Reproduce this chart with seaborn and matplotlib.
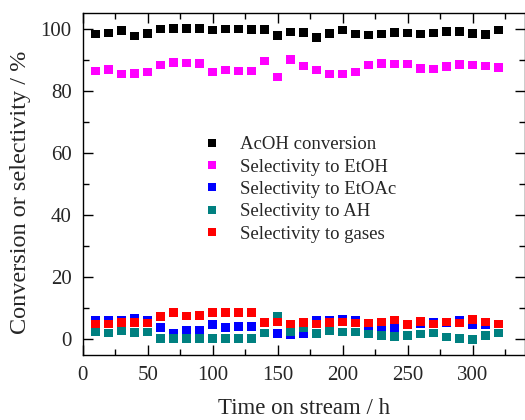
import numpy as np
import pandas as pd
import matplotlib
matplotlib.use("Agg")
import matplotlib.pyplot as plt
import seaborn as sns
from matplotlib.ticker import MultipleLocator

time_h = [10, 20, 30, 40, 50, 60, 70, 80, 90, 100, 110, 120, 130, 140, 150, 160,
          170, 180, 190, 200, 210, 220, 230, 240, 250, 260, 270, 280, 290, 300, 310, 320]

acoh_conv = [98.2, 98.6, 99.3, 97.6, 98.5, 99.9, 100.0, 100.0, 100.0, 99.6, 99.9, 99.9, 99.7, 99.7, 97.7, 98.9,
             98.7, 97.1, 98.5, 99.5, 98.3, 97.9, 98.2, 98.7, 98.6, 98.2, 98.6, 99.0, 99.1, 98.4, 98.1, 99.5]

sel_etoh = [86.4, 86.8, 85.4, 85.5, 86.0, 88.3, 89.1, 88.9, 88.8, 86.0, 86.7, 86.4, 86.4, 89.6, 84.4, 90.0,
            88.0, 86.7, 85.4, 85.4, 86.0, 88.3, 88.8, 88.6, 88.6, 87.1, 87.0, 87.8, 88.5, 88.3, 88.0, 87.5]

sel_etoac = [6.0, 6.0, 6.2, 6.8, 6.2, 3.9, 1.8, 2.9, 2.9, 4.7, 3.9, 4.2, 4.2, 2.0, 1.9, 1.6,
             1.7, 6.0, 6.2, 6.6, 6.2, 3.4, 3.6, 3.9, 5.0, 4.9, 5.5, 5.5, 6.1, 4.8, 4.6, 5.0]

sel_ah = [2.4, 2.1, 2.8, 2.2, 2.4, 0.3, 0.2, 0.2, 0.3, 0.3, 0.3, 0.3, 0.3, 2.0, 7.5, 2.4,
          3.9, 1.9, 2.7, 2.3, 2.4, 1.7, 1.3, 0.9, 1.3, 1.7, 2.1, 0.7, 0.2, -0.1, 1.3, 2.1]

sel_gases = [5.0, 5.0, 5.4, 5.5, 5.2, 7.4, 8.6, 7.5, 7.7, 8.6, 8.7, 8.6, 8.6, 5.4, 5.6, 5.0,
             5.4, 5.0, 5.4, 5.6, 5.3, 5.3, 5.6, 6.2, 4.8, 5.7, 5.0, 5.6, 5.3, 6.4, 5.6, 5.0]

series_names = ["AcOH conversion", "Selectivity to EtOH", "Selectivity to EtOAc",
                "Selectivity to AH", "Selectivity to gases"]
series_colors = ["#000000", "#FF00FF", "#0000FF", "#008080", "#FF0000"]
series_values = [acoh_conv, sel_etoh, sel_etoac, sel_ah, sel_gases]

frames = []
for name, vals in zip(series_names, series_values):
    frames.append(pd.DataFrame({"Time": time_h, "Value": vals, "Series": name}))
df = pd.concat(frames, ignore_index=True)

sns.set_style("ticks")
plt.rcParams["font.family"] = ["Liberation Serif", "DejaVu Serif"]

fig = plt.figure(figsize=(5.25, 4.2), dpi=100)
ax = fig.add_axes([0.1575, 0.155, 0.842, 0.814])

sns.scatterplot(data=df, x="Time", y="Value", hue="Series", hue_order=series_names,
                palette=dict(zip(series_names, series_colors)), marker="s", s=38,
                linewidth=0, ax=ax, legend=True)

ax.set_xlim(0, 340)
ax.set_ylim(-5, 105)
ax.xaxis.set_major_locator(MultipleLocator(50))
ax.xaxis.set_minor_locator(MultipleLocator(25))
ax.yaxis.set_major_locator(MultipleLocator(20))
ax.yaxis.set_minor_locator(MultipleLocator(10))
ax.tick_params(which="both", direction="in", top=True, right=True, labelsize=15,
               width=1.0, color="black", pad=8)
ax.tick_params(which="major", length=7)
ax.tick_params(which="minor", length=4)
for sp in ax.spines.values():
    sp.set_linewidth(1.0)
    sp.set_color("black")

ax.set_xlabel("Time on stream / h", fontsize=16.5, labelpad=9)
ax.set_ylabel("Conversion or selectivity / %", fontsize=17.5)
ax.yaxis.set_label_coords(-0.118, 0.475)

handles, labels = ax.get_legend_handles_labels()
ax.legend(handles, labels, loc="upper left", bbox_to_anchor=(0.234, 0.662), frameon=False,
          fontsize=13.5, handletextpad=0.45, labelspacing=0.28, borderaxespad=0,
          markerscale=0.9)

fig.savefig("out.png", dpi=100)
